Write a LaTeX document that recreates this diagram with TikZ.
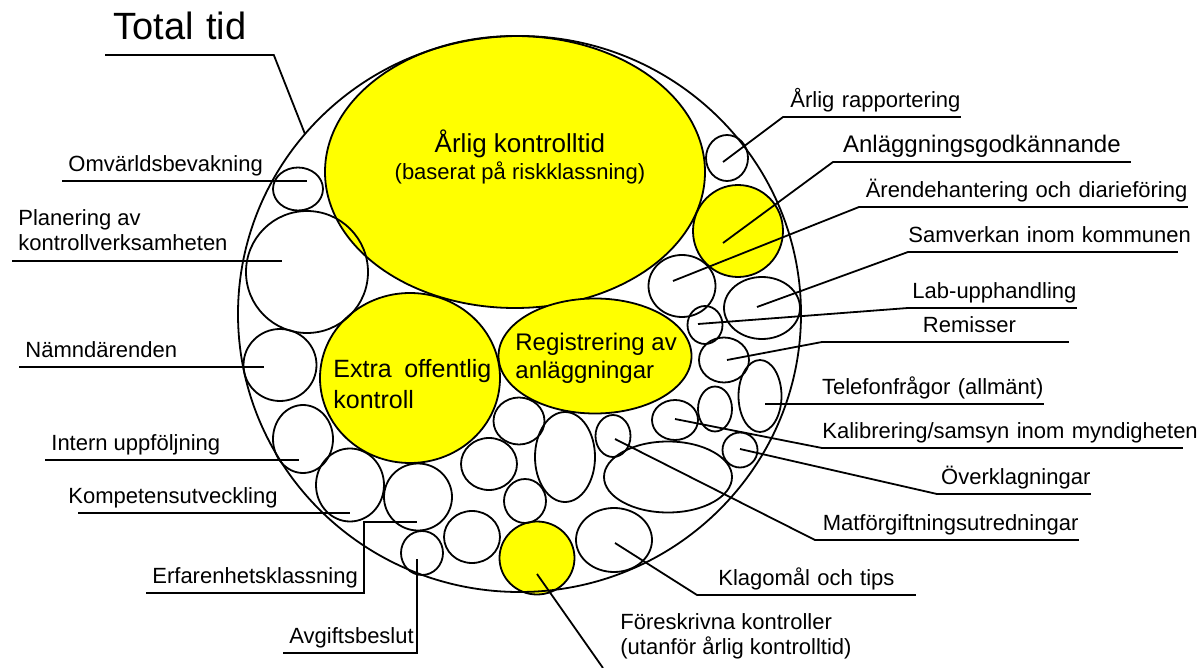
\documentclass[tikz,border=0pt]{standalone}
\usepackage{fontspec}
\setmainfont{Liberation Sans}
\usetikzlibrary{arrows, shapes}
\definecolor{bubbleyellow}{RGB}{255,255,0}

\begin{document}
\begin{tikzpicture}[x=0.5pt, y=-0.5pt]
		\tikzstyle{every node} = [font = \fontsize{11}{12.5}\selectfont]
		\tikzstyle{bubble} = [ellipse, draw, line width=0.9pt, inner sep=0pt, outer sep=0pt]
		\tikzstyle{yellowbubble} = [bubble, fill=bubbleyellow]
		\tikzstyle{lefttag} = [anchor=south west, inner xsep=3pt, inner ysep=2pt, text depth=2.5pt, align=left]
		\tikzstyle{righttag} = [anchor=south west, inner xsep=0pt, inner ysep=2pt, text depth=2.5pt, align=right]
		\tikzstyle{bubbletext} = [inner sep=0pt, anchor=north west, align=left]
		\tikzstyle{leader} = [draw, line width=0.9pt]
		\useasboundingbox (0,0) rectangle (1200,668);
		% yellow parts
		\node[yellowbubble, minimum width=190pt, minimum height=136pt] (akt) at (515,172) {};
		\node[yellowbubble, minimum width=90pt, minimum height=85pt] (eok) at (410,378) {};
		\node[yellowbubble, minimum width=96.5pt, minimum height=57.5pt] (reg) at (595,356) {};
		\node[yellowbubble, minimum width=45pt, minimum height=46pt] (agk) at (738,231) {};
		\node[yellowbubble, minimum width=37.5pt, minimum height=36.5pt] (frk) at (537,558) {};
		% total time
		\node[bubble, minimum width=281.5pt, minimum height=278pt] (tot) at (519.5,314) {};
		% white parts
		\node[bubble, minimum width=25pt, minimum height=21.5pt] (omv) at (298,189) {};
		\node[bubble, minimum width=61pt, minimum height=61pt] (pla) at (307,272) {};
		\node[bubble, minimum width=36.5pt, minimum height=36pt] (nam) at (280,365) {};
		\node[bubble, minimum width=30pt, minimum height=34pt] (int) at (303,439) {};
		\node[bubble, minimum width=34pt, minimum height=36.5pt] (kom) at (350,485) {};
		\node[bubble, minimum width=34pt, minimum height=33.5pt] (erf) at (418,497) {};
		\node[bubble, minimum width=21pt, minimum height=22pt] (avg) at (422,553) {};
		\node[bubble, minimum width=21pt, minimum height=23pt] (arp) at (727,158) {};
		\node[bubble, minimum width=33.5pt, minimum height=31pt] (ard) at (682,286) {};
		\node[bubble, minimum width=38pt, minimum height=31pt] (sam) at (762,308) {};
		\node[bubble, minimum width=17.5pt, minimum height=19pt] (lab) at (705,325) {};
		\node[bubble, minimum width=25pt, minimum height=22.5pt] (rem) at (724,360) {};
		\node[bubble, minimum width=21.5pt, minimum height=36pt] (tel) at (760,396) {};
		\node[bubble, minimum width=17pt, minimum height=22.5pt] (ex1) at (715,409) {};
		\node[bubble, minimum width=23pt, minimum height=20pt] (kal) at (675,420) {};
		\node[bubble, minimum width=17.5pt, minimum height=17.5pt] (ovk) at (740,450) {};
		\node[bubble, minimum width=17.5pt, minimum height=21pt] (mat) at (613,436) {};
		\node[bubble, minimum width=64pt, minimum height=35.5pt] (ex2) at (668,477) {};
		\node[bubble, minimum width=38pt, minimum height=32pt] (klg) at (614,540) {};
		\node[bubble, minimum width=30pt, minimum height=45pt] (ex3) at (565,457) {};
		\node[bubble, minimum width=25.5pt, minimum height=23.5pt] (ex4) at (519,421) {};
		\node[bubble, minimum width=28pt, minimum height=26pt] (ex5) at (489,464) {};
		\node[bubble, minimum width=21pt, minimum height=22pt] (ex6) at (525,501) {};
		\node[bubble, minimum width=28pt, minimum height=26pt] (ex7) at (472,537) {};
		% texts inside
		\node[font=\fontsize{13}{15}\selectfont, anchor=base] (akt-t1) at (520,153) {Årlig kontrolltid};
		\node[anchor=base] (akt-t2) at (520,180) {(baserat på riskklassning)};
		\node[bubbletext, font=\fontsize{12.5}{15.5}\selectfont] (eok-t) at (333,359) {Extra\hspace{0.5em}offentlig\\kontroll};
		\node[bubbletext, font=\fontsize{12}{14}\selectfont] (reg-t) at (515,333) {Registrering av\\anläggningar};
		% labels, left
		\node[lefttag, inner xsep=4pt, inner ysep=7.5pt, text depth=0pt, text width=76pt, font=\fontsize{19}{22}\selectfont] (ttl) at (105,55) {Total tid};
		\node[lefttag] (omv-l) at (62,181) {Omvärldsbevakning};
		\node[lefttag, inner ysep=5pt, text depth={}] (pla-l) at (12,261) {Planering av\\kontrollverksamheten};
		\node[lefttag] (nam-l) at (19,367) {Nämndärenden};
		\node[lefttag] (int-l) at (45,460) {Intern uppföljning};
		\node[lefttag] (kom-l) at (62,513) {Kompetensutveckling};
		\node[lefttag] (erf-l) at (146,593) {Erfarenhetsklassning};
		\node[lefttag] (avg-l) at (283,653) {Avgiftsbeslut};
		% labels, right
		\node[righttag, text width=88.5pt] (arp-l) at (783,117) {\mbox{Årlig rapportering}};
		\node[righttag, text width=148.5pt, align=center, font=\fontsize{12}{14}\selectfont] (agk-l) at (833,162) {\mbox{Anläggningsgodkännande}};
		\node[righttag, text width=164pt] (ard-l) at (859,207) {\mbox{Ärendehantering och diarieföring}};
		\node[righttag, text width=134.5pt] (sam-l) at (908,252) {\mbox{Samverkan inom kommunen}};
		\node[righttag, text width=84pt] (lab-l) at (908,308) {\mbox{Lab-upphandling}};
		\node[righttag, text width=123pt, align=center] (rem-l) at (822,342) {\hspace*{24pt}Remisser};
		\node[righttag, text width=139pt] (tel-l) at (765,404) {\mbox{Telefonfrågor (allmänt)}};
		\node[righttag, text width=180pt] (kal-l) at (822,448) {\mbox{Kalibrering/samsyn inom myndigheten}};
		\node[righttag, text width=76.5pt] (ovk-l) at (937,494) {\mbox{Överklagningar}};
		\node[righttag, text width=131.5pt] (mat-l) at (815,540) {\mbox{Matförgiftningsutredningar}};
		\node[righttag, text width=109pt, align=center] (klg-l) at (697,595) {\mbox{Klagomål och tips}};
		\node[bubbletext] (frk-l) at (620,613) {Föreskrivna kontroller\\(utanför årlig kontrolltid)};
		% leader ends
		\coordinate (omv-in) at (307,181);
		\coordinate (pla-in) at (282,261);
		\coordinate (nam-in) at (264,367);
		\coordinate (int-in) at (299,460);
		\coordinate (kom-in) at (350,513);
		\coordinate (erf-in) at (417,522);
		\coordinate (avg-in) at (417,559);
		\coordinate (arp-in) at (723,162);
		\coordinate (agk-in) at (723,243);
		\coordinate (ard-in) at (673,281);
		\coordinate (sam-in) at (757,307);
		\coordinate (lab-in) at (698,324);
		\coordinate (rem-in) at (727,360);
		\coordinate (kal-in) at (675,419);
		\coordinate (ovk-in) at (740,449);
		\coordinate (mat-in) at (615,439);
		\coordinate (klg-in) at (615,543);
		\coordinate (frk-in) at (537,574);
		\coordinate (frk-out) at (603,668);
		% leaders
		\path[leader] (ttl.south west) -- (ttl.south east) -- (tot.140);
		\path[leader] (omv-l.south west) -- (omv-in);
		\path[leader] (pla-l.south west) -- (pla-in);
		\path[leader] (nam-l.south west) -- (nam-in);
		\path[leader] (int-l.south west) -- (int-in);
		\path[leader] ([xshift=8pt]kom-l.south west) -- (kom-in);
		\path[leader] (erf-l.south west) -- (erf-l.south east) |- (erf-in);
		\path[leader] (avg-l.south west) -| (avg-in);
		\path[leader] (arp-in) -- (arp-l.south west) -- (arp-l.south east);
		\path[leader] (agk-in) -- (agk-l.south west) -- (agk-l.south east);
		\path[leader] (ard-in) -- (ard-l.south west) -- (ard-l.south east);
		\path[leader] (sam-in) -- (sam-l.south west) -- (sam-l.south east);
		\path[leader] (lab-in) -- (lab-l.south west) -- (lab-l.south east);
		\path[leader] (rem-in) -- (rem-l.south west) -- (rem-l.south east);
		\path[leader] (tel-l.south west) -- (tel-l.south east);
		\path[leader] (kal-in) -- (kal-l.south west) -- (kal-l.south east);
		\path[leader] (ovk-in) -- (ovk-l.south west) -- (ovk-l.south east);
		\path[leader] (mat-in) -- (mat-l.south west) -- (mat-l.south east);
		\path[leader] (klg-in) -- (klg-l.south west) -- (klg-l.south east);
		\path[leader] (frk-in) -- (frk-out);
\end{tikzpicture}
\end{document}
